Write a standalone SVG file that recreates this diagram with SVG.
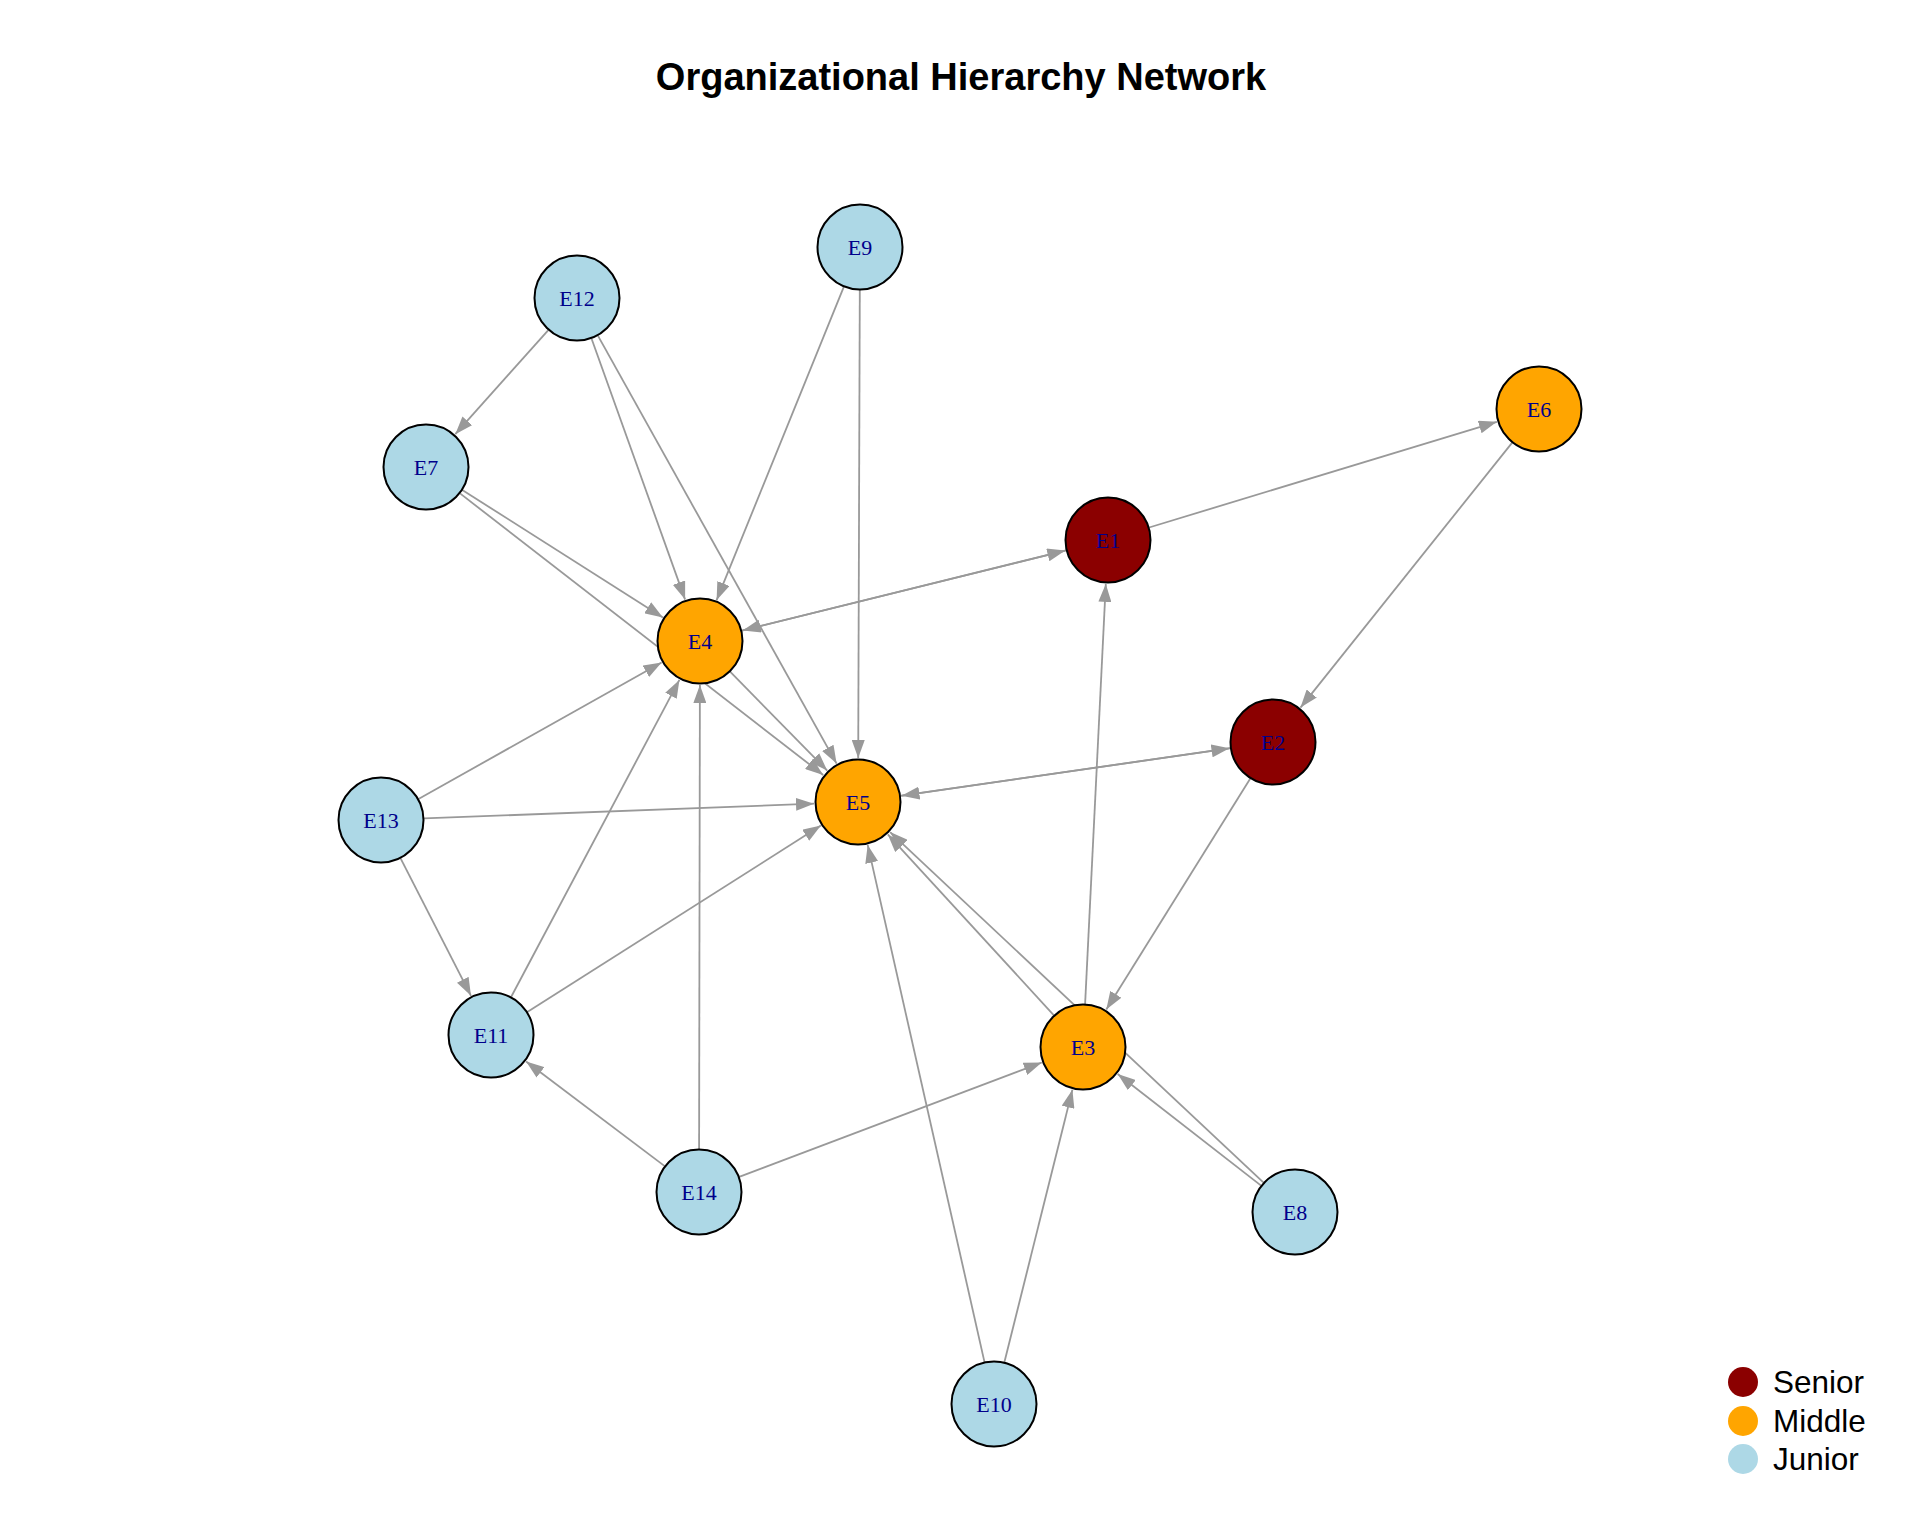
<svg xmlns="http://www.w3.org/2000/svg" width="1920" height="1536" viewBox="0 0 1920 1536">
<style>
.edge{stroke:#999999;stroke-width:1.8;fill:none;marker-end:url(#arrow)}
.node{stroke:#000000;stroke-width:2}
.senior{fill:#8B0000}
.middle{fill:#FFA500}
.junior{fill:#ADD8E6}
.lbl{font-family:"Liberation Serif","Times New Roman",serif;font-size:22px;fill:#00008B;text-anchor:middle}
.title{font-family:"Liberation Sans",Arial,sans-serif;font-size:38px;font-weight:bold;fill:#000000;text-anchor:middle}
.leg{font-family:"Liberation Sans",Arial,sans-serif;font-size:31.5px;fill:#000000}
</style>
<defs>
<marker id="arrow" markerUnits="userSpaceOnUse" markerWidth="18" markerHeight="13" refX="18" refY="6.5" orient="auto">
<path d="M0,0 L18,6.5 L0,13 z" fill="#999999"/>
</marker>
</defs>
<rect x="0" y="0" width="1920" height="1536" fill="#ffffff"/>
<text class="title" x="961" y="90">Organizational Hierarchy Network</text>
<g id="edges">
<line class="edge" x1="548.3" y1="330.1" x2="455.3" y2="434.2"/>
<line class="edge" x1="591.5" y1="338.5" x2="685.1" y2="599.6"/>
<line class="edge" x1="597.9" y1="335.6" x2="836.6" y2="763.6"/>
<line class="edge" x1="843.8" y1="286.8" x2="716.6" y2="600.2"/>
<line class="edge" x1="859.8" y1="290" x2="858.2" y2="758"/>
<line class="edge" x1="462.3" y1="490.0" x2="662.9" y2="617.4"/>
<line class="edge" x1="460.0" y1="493.4" x2="823.2" y2="775.0"/>
<line class="edge" x1="1149.1" y1="527.5" x2="1496.9" y2="421.8"/>
<line class="edge" x1="1512.2" y1="442.6" x2="1300.5" y2="707.6"/>
<line class="edge" x1="741.7" y1="630.7" x2="1065.3" y2="550.6"/>
<line class="edge" x1="1066.3" y1="550.3" x2="742.7" y2="630.4"/>
<line class="edge" x1="730.1" y1="671.7" x2="827.2" y2="770.6"/>
<line class="edge" x1="900.6" y1="795.8" x2="1229.5" y2="748.3"/>
<line class="edge" x1="1230.4" y1="748.2" x2="901.5" y2="795.7"/>
<line class="edge" x1="1250.3" y1="778.5" x2="1106.3" y2="1009.6"/>
<line class="edge" x1="1085.1" y1="1004.1" x2="1105.8" y2="583.9"/>
<line class="edge" x1="1053.9" y1="1015.3" x2="887.8" y2="834.4"/>
<line class="edge" x1="1263.6" y1="1182.6" x2="890.1" y2="832.1"/>
<line class="edge" x1="1261.1" y1="1185.6" x2="1117.7" y2="1074.0"/>
<line class="edge" x1="418.5" y1="799.0" x2="661.6" y2="662.5"/>
<line class="edge" x1="424" y1="818.4" x2="814.0" y2="803.7"/>
<line class="edge" x1="400.6" y1="858.3" x2="471.0" y2="995.8"/>
<line class="edge" x1="511.1" y1="997.0" x2="679.4" y2="679.9"/>
<line class="edge" x1="527.3" y1="1012.0" x2="820.9" y2="825.6"/>
<line class="edge" x1="664.7" y1="1166.1" x2="526.1" y2="1061.5"/>
<line class="edge" x1="699.1" y1="1149" x2="699.9" y2="685"/>
<line class="edge" x1="739.2" y1="1176.8" x2="1041.8" y2="1062.5"/>
<line class="edge" x1="984.5" y1="1362.1" x2="867.7" y2="844.9"/>
<line class="edge" x1="1004.4" y1="1362.3" x2="1072.4" y2="1089.7"/>
</g>
<g id="node-E1"><circle class="node senior" cx="1108" cy="540" r="42.5"/><text class="lbl" x="1108" y="548">E1</text></g>
<g id="node-E2"><circle class="node senior" cx="1273" cy="742" r="42.5"/><text class="lbl" x="1273" y="750">E2</text></g>
<g id="node-E3"><circle class="node middle" cx="1083" cy="1047" r="42.5"/><text class="lbl" x="1083" y="1055">E3</text></g>
<g id="node-E4"><circle class="node middle" cx="700" cy="641" r="42.5"/><text class="lbl" x="700" y="649">E4</text></g>
<g id="node-E5"><circle class="node middle" cx="858" cy="802" r="42.5"/><text class="lbl" x="858" y="810">E5</text></g>
<g id="node-E6"><circle class="node middle" cx="1539" cy="409" r="42.5"/><text class="lbl" x="1539" y="417">E6</text></g>
<g id="node-E7"><circle class="node junior" cx="426" cy="467" r="42.5"/><text class="lbl" x="426" y="475">E7</text></g>
<g id="node-E8"><circle class="node junior" cx="1295" cy="1212" r="42.5"/><text class="lbl" x="1295" y="1220">E8</text></g>
<g id="node-E9"><circle class="node junior" cx="860" cy="247" r="42.5"/><text class="lbl" x="860" y="255">E9</text></g>
<g id="node-E10"><circle class="node junior" cx="994" cy="1404" r="42.5"/><text class="lbl" x="994" y="1412">E10</text></g>
<g id="node-E11"><circle class="node junior" cx="491" cy="1035" r="42.5"/><text class="lbl" x="491" y="1043">E11</text></g>
<g id="node-E12"><circle class="node junior" cx="577" cy="298" r="42.5"/><text class="lbl" x="577" y="306">E12</text></g>
<g id="node-E13"><circle class="node junior" cx="381" cy="820" r="42.5"/><text class="lbl" x="381" y="828">E13</text></g>
<g id="node-E14"><circle class="node junior" cx="699" cy="1192" r="42.5"/><text class="lbl" x="699" y="1200">E14</text></g>
<g id="legend">
<circle class="senior" cx="1743" cy="1382" r="15"/>
<text class="leg" x="1773" y="1393">Senior</text>
<circle class="middle" cx="1743" cy="1421" r="15"/>
<text class="leg" x="1773" y="1432">Middle</text>
<circle class="junior" cx="1743" cy="1459" r="15"/>
<text class="leg" x="1773" y="1470">Junior</text>
</g>
</svg>
